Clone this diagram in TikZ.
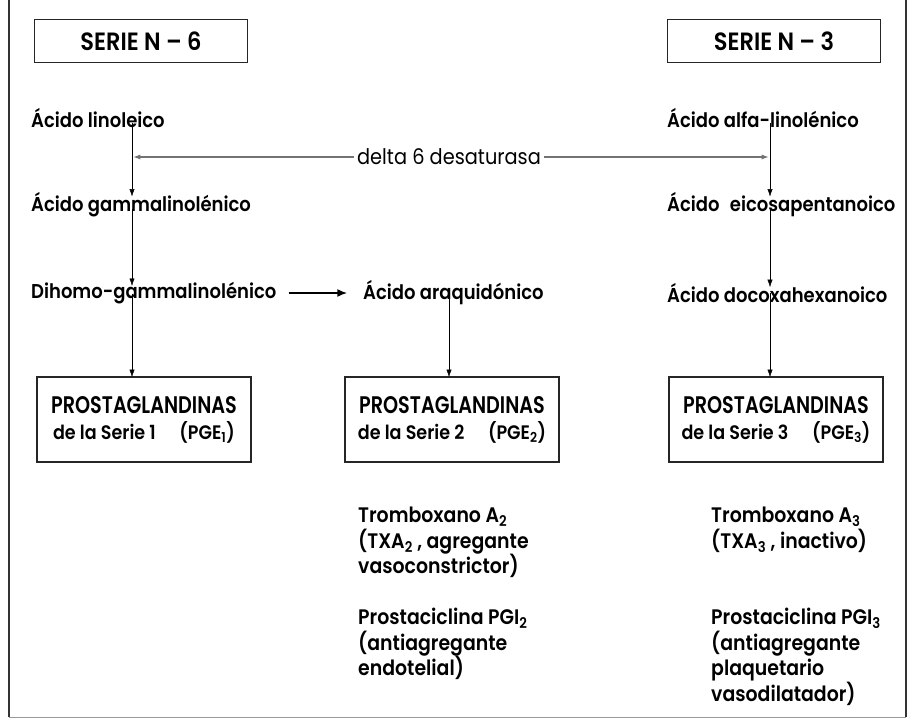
\documentclass[tikz,border=0pt]{standalone}
\usepackage{fontspec}
\setmainfont{Poppins}[BoldFont={Poppins SemiBold}, FakeStretch=0.9]
\newfontfamily\capsfont{Poppins}[BoldFont={Poppins SemiBold}, FakeStretch=0.8]
\usetikzlibrary{positioning}
\usetikzlibrary{arrows.meta}
\tikzset{>={Latex[width=1.8mm,length=2.6mm]}}

\begin{document}
\begin{tikzpicture}[x=1pt, y=-1pt, serie/.style={draw=black!85, line width=1.6pt, minimum width=213pt, minimum height=43pt, font=\fontsize{25}{26}\selectfont\bfseries}, pgbox/.style={draw=black!85, line width=1.8pt, minimum width=214pt, minimum height=85pt, align=center, font=\fontsize{19.5}{26}\selectfont\bfseries}, acid/.style={anchor=west, inner sep=0pt, font=\fontsize{20}{24}\selectfont\bfseries}, note/.style={anchor=north west, inner sep=0pt, align=left, font=\fontsize{21}{25.5}\selectfont\bfseries}]

    \useasboundingbox (0,0) rectangle (909,719);
    %Frame
    \draw[line width=1.2pt, black!80] (9,717) -- (9,0);
    \draw[line width=1.2pt, black!80] (906,717) -- (906,0);
    \draw[line width=0.8pt, black!40] (9,717) -- (906,717);

    %Nodes
    \node[serie](n6) at (141,41){SERIE N -- 6};
    \node[serie](n3) at (774,41){SERIE N -- 3};

    \node[acid](lin) at (31,118){Ácido linoleico};
    \node[acid](gam) at (31,205){Ácido gammalinolénico};
    \node[acid](dih) at (31,293){Dihomo-gammalinolénico};
    \node[acid](ara) at (363,293){Ácido araquidónico};
    \node[acid](alf) at (667,118){Ácido alfa-linolénico};
    \node[acid](eic) at (667,205){Ácido\hspace{0.3em} eicosapentanoico};
    \node[acid](doc) at (667,293){Ácido docoxahexanoico};
    \node[font=\fontsize{21.5}{24}\selectfont](delta) at (449,157){delta 6 desaturasa};

    \node[pgbox](pg1) at (144,419.5){{\capsfont\fontsize{24}{26}\selectfont PROSTAGLANDINAS}\\de la Serie 1 \quad(PGE\textsubscript{1})};
    \node[pgbox](pg2) at (452,419.5){{\capsfont\fontsize{24}{26}\selectfont PROSTAGLANDINAS}\\de la Serie 2 \quad(PGE\textsubscript{2})};
    \node[pgbox](pg3) at (776,419.5){{\capsfont\fontsize{24}{26}\selectfont PROSTAGLANDINAS}\\de la Serie 3 \quad(PGE\textsubscript{3})};

    \node[note](tx2) at (358,507){Tromboxano A\textsubscript{2}\\(TXA\textsubscript{2} , agregante\\vasoconstrictor)};
    \node[note](pi2) at (358,608){Prostaciclina PGI\textsubscript{2}\\(antiagregante\\endotelial)};
    \node[note](tx3) at (711,507){Tromboxano A\textsubscript{3}\\(TXA\textsubscript{3} , inactivo)};
    \node[note](pi3) at (711,608){Prostaciclina PGI\textsubscript{3}\\(antiagregante\\plaquetario\\vasodilatador)};

    \coordinate(colA) at (132,0);
    \coordinate(colB) at (770,0);
    \coordinate(colC) at (449,0);
    \coordinate(dl) at (133,157);
    \coordinate(dr) at (769,157);

    %Lines
    \draw[->, thin] (lin.south -| colA) ++(0,-5) -- ([yshift=-4pt]gam.north -| colA);
    \draw[->, thin] (gam.south -| colA) ++(0,-8) -- ([yshift=-4pt]dih.north -| colA);
    \draw[->, thin] (dih.south -| colA) ++(0,-10) -- ([yshift=-1pt]pg1.north -| colA);
    \draw[->, line width=1.4pt, >={Latex[width=2.8mm,length=3.4mm]}] ([xshift=12pt]dih.east) -- ([xshift=-16pt]ara.west);
    \draw[->, thin] (ara.south -| colC) ++(0,-10) -- ([yshift=-1pt]pg2.north -| colC);
    \draw[->, thin] (alf.south -| colB) ++(0,-5) -- ([yshift=-4pt]eic.north -| colB);
    \draw[->, thin] (eic.south -| colB) ++(0,-8) -- ([yshift=-4pt]doc.north -| colB);
    \draw[->, thin] (doc.south -| colB) ++(0,-10) -- ([yshift=-1pt]pg3.north -| colB);
    \draw[->, black!55, line width=1.3pt] (delta.west) -- (dl);
    \draw[->, black!55, line width=1.3pt] (delta.east) -- (dr);

\end{tikzpicture}
\end{document}
